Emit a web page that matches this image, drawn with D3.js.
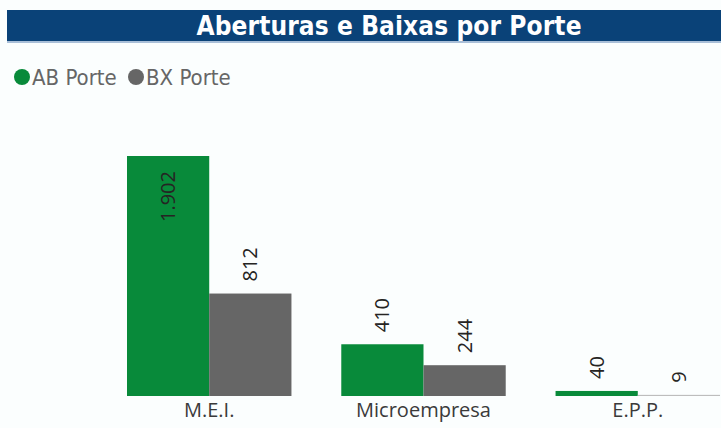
<!DOCTYPE html>
<html>
<head>
<meta charset="utf-8">
<script src="https://cdn.jsdelivr.net/npm/d3@7"></script>
<style>
  html, body { margin: 0; padding: 0; background: #fbfefe; }
  svg { display: block; }
</style>
</head>
<body>
<svg id="chart" width="721" height="428"></svg>
<script>
const categories = ["M.E.I.", "Microempresa", "E.P.P."]
const abPorte = [1902, 410, 40]
const bxPorte = [812, 244, 9]
const seriesNames = ["AB Porte", "BX Porte"]
const title = "Aberturas e Baixas por Porte"

const width = 721
const height = 428
const colors = ["#088a3a", "#666666"]

const svg = d3.select("#chart")

// title bar
svg.append("rect")
  .attr("x", 7).attr("y", 10)
  .attr("width", width - 7).attr("height", 31)
  .attr("fill", "#0a4278")
svg.append("rect")
  .attr("x", 7).attr("y", 41)
  .attr("width", width - 7).attr("height", 2)
  .attr("fill", "#a9bfd8")
svg.append("text")
  .attr("x", 389).attr("y", 35)
  .attr("text-anchor", "middle")
  .attr("fill", "#ffffff")
  .attr("font-family", "DejaVu Sans Condensed, DejaVu Sans")
  .attr("font-weight", "bold")
  .attr("font-size", 26)
  .attr("textLength", 385)
  .text(title)

// legend
const legend = svg.append("g").attr("transform", "translate(0, 77)")
const legendX = [22, 136]
seriesNames.forEach((name, i) => {
  legend.append("circle")
    .attr("cx", legendX[i]).attr("cy", 0).attr("r", 8)
    .attr("fill", colors[i])
  legend.append("text")
    .attr("x", legendX[i] + 10).attr("y", 8)
    .attr("font-family", "DejaVu Sans Condensed, DejaVu Sans")
    .attr("font-size", 22)
    .attr("fill", "#666666")
    .text(name)
})

// scales
const x0 = d3.scaleBand()
  .domain(categories)
  .range([127, 720])
  .paddingInner(50 / 215)
  .paddingOuter(0)

const x1 = d3.scaleBand()
  .domain(seriesNames)
  .range([0, x0.bandwidth()])

const y = d3.scaleLinear()
  .domain([0, d3.max(abPorte)])
  .range([396, 156])

const rows = categories.map((c, i) => ({
  category: c,
  values: [abPorte[i], bxPorte[i]]
}))

const fmt = v => d3.format(",")(v).replace(/,/g, ".")

const groups = svg.append("g").selectAll("g")
  .data(rows)
  .join("g")
  .attr("transform", d => `translate(${x0(d.category)},0)`)

groups.selectAll("rect")
  .data(d => d.values.map((v, i) => ({ series: seriesNames[i], value: v, i })))
  .join("rect")
  .attr("x", d => x1(d.series))
  .attr("y", d => y(d.value))
  .attr("width", x1.bandwidth())
  .attr("height", d => y(0) - y(d.value))
  .attr("fill", (d) => (d.value < 20 ? "#bdbdbd" : colors[d.i]))

// data labels, rotated
groups.selectAll("text.label")
  .data(d => d.values.map((v, i) => ({ series: seriesNames[i], value: v, i })))
  .join("text")
  .attr("class", "label")
  .attr("font-family", "Open Sans")
  .attr("font-size", 20)
  .attr("fill", "#252423")
  .attr("transform", d => {
    const cx = x1(d.series) + x1.bandwidth() / 2 + 7
    const top = y(d.value)
    const inside = top < 200
    const yy = inside ? top + 15 : top - 12
    return `translate(${cx},${yy}) rotate(-90)`
  })
  .attr("text-anchor", d => (y(d.value) < 200 ? "end" : "start"))
  .text(d => fmt(d.value))

// category axis labels
const xAxis = svg.append("g")
  .attr("transform", "translate(0, 396)")
  .call(d3.axisBottom(x0).tickSize(0).tickPadding(7))
xAxis.select(".domain").remove()
xAxis.selectAll("text")
  .attr("font-family", "Open Sans")
  .attr("font-size", 20)
  .attr("fill", "#3a3a3a")
</script>
</body>
</html>
